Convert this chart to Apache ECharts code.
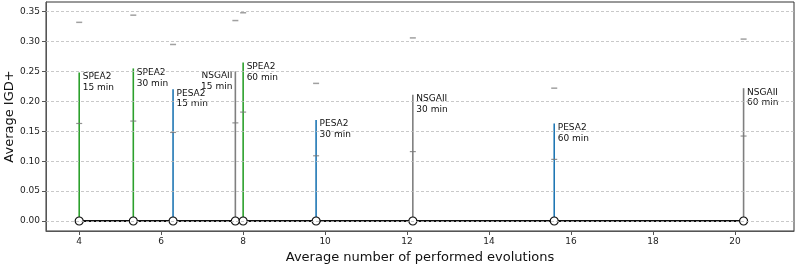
<!DOCTYPE html>
<html><head><meta charset="utf-8">
<script src="https://cdn.jsdelivr.net/npm/echarts@6/dist/echarts.min.js"></script>
<style>html,body{margin:0;padding:0;background:#fff}#c{width:797px;height:266px}</style>
</head><body><div id="c"></div>
<script>
var algorithms = ['SPEA2','SPEA2','PESA2','NSGAII','SPEA2','PESA2','NSGAII','PESA2','NSGAII'];
var budgets = ['15 min','30 min','15 min','15 min','60 min','30 min','30 min','60 min','60 min'];
var evolutions = [4.0, 5.32, 6.29, 7.81, 8.0, 9.78, 12.14, 15.59, 20.21];
var stemTop = [0.248, 0.255, 0.220, 0.250, 0.265, 0.169, 0.211, 0.163, 0.222];
var midValue = [0.163, 0.167, 0.148, 0.164, 0.182, 0.109, 0.116, 0.103, 0.142];
var upperValue = [0.332, 0.344, 0.295, 0.335, 0.348, 0.230, 0.306, 0.222, 0.304];
var labelLeft = [false, false, false, true, false, false, false, false, false];
var xTicks = [4, 6, 8, 10, 12, 14, 16, 18, 20];
var yTicks = [0.00, 0.05, 0.10, 0.15, 0.20, 0.25, 0.30, 0.35];
var algoColors = {SPEA2: '#2ca02c', PESA2: '#1f77b4', NSGAII: '#7f7f7f'};

var FONT = 'DejaVu Sans';
var stemData = evolutions.map(function (x, i) { return [x, stemTop[i], i]; });
var midData = evolutions.map(function (x, i) { return [x, midValue[i]]; });
var upData = evolutions.map(function (x, i) { return [x, upperValue[i]]; });
var baseData = evolutions.map(function (x) { return [x, 0]; });

var chart = echarts.init(document.getElementById('c'), null, {renderer: 'canvas'});
chart.setOption({
  animation: false,
  grid: {left: 46, right: 3, top: 2, bottom: 35, show: true, borderColor: '#333', borderWidth: 1,
         backgroundColor: 'transparent', containLabel: false, outerBoundsMode: 'none'},
  xAxis: {
    type: 'value', min: 3.19, max: 21.44,
    axisLine: {show: true, onZero: false, lineStyle: {color: '#555', width: 1}},
    axisTick: {show: true, customValues: xTicks, length: 4, lineStyle: {color: '#555'}},
    axisLabel: {customValues: xTicks, color: '#222', fontFamily: FONT, fontSize: 9, margin: 6},
    splitLine: {show: false},
    name: 'Average number of performed evolutions', nameLocation: 'middle', nameGap: 20,
    nameMoveOverlap: false,
    nameTextStyle: {fontFamily: FONT, fontSize: 13, color: '#111'}
  },
  yAxis: {
    type: 'value', min: -0.0167, max: 0.366,
    axisLine: {show: true, onZero: false, lineStyle: {color: '#555', width: 1}},
    axisTick: {show: true, customValues: yTicks, length: 4, lineStyle: {color: '#555'}},
    axisLabel: {customValues: yTicks, color: '#222', fontFamily: FONT, fontSize: 9, margin: 6,
      formatter: function (v) { return v.toFixed(2); }},
    splitLine: {show: false},
    name: 'Average IGD+', nameLocation: 'middle', nameGap: 30,
    nameMoveOverlap: false,
    nameTextStyle: {fontFamily: FONT, fontSize: 13, color: '#111'}
  },
  series: [
    {
      type: 'line', data: [], z: 0, silent: true,
      markLine: {
        silent: true, symbol: 'none', label: {show: false}, animation: false,
        lineStyle: {type: [3, 2], color: '#bbbbbb', width: 0.8},
        data: yTicks.map(function (v) { return {yAxis: v}; })
      }
    },
    {
      type: 'custom', z: 2,
      data: stemData,
      renderItem: function (params, api) {
        var x = api.value(0), top = api.value(1), i = api.value(2);
        var p0 = api.coord([x, 0]);
        var p1 = api.coord([x, top]);
        var col = algoColors[algorithms[i]];
        var left = labelLeft[i];
        return {
          type: 'group',
          children: [
            {type: 'line', shape: {x1: p0[0], y1: p0[1], x2: p1[0], y2: p1[1]},
             style: {stroke: col, lineWidth: 1.6}},
            {type: 'text', x: left ? p1[0] - 3 : p1[0] + 3.5, y: p1[1] - 1,
             style: {text: algorithms[i] + '\n' + budgets[i], fill: '#111', font: '9px "DejaVu Sans"',
                     align: left ? 'right' : 'left', verticalAlign: 'top', lineHeight: 10.5}}
          ]
        };
      }
    },
    {
      type: 'scatter', z: 3, data: midData, symbol: 'rect', symbolSize: [6, 1.2],
      itemStyle: {color: '#777'}, silent: true
    },
    {
      type: 'scatter', z: 3, data: upData, symbol: 'rect', symbolSize: [6, 1.5],
      itemStyle: {color: '#888'}, silent: true
    },
    {
      type: 'line', z: 4, data: baseData, symbol: 'circle', symbolSize: 8,
      lineStyle: {color: '#111', width: 1.8},
      itemStyle: {color: '#fff', borderColor: '#111', borderWidth: 1.2}, silent: true
    }
  ]
});
</script></body></html>
